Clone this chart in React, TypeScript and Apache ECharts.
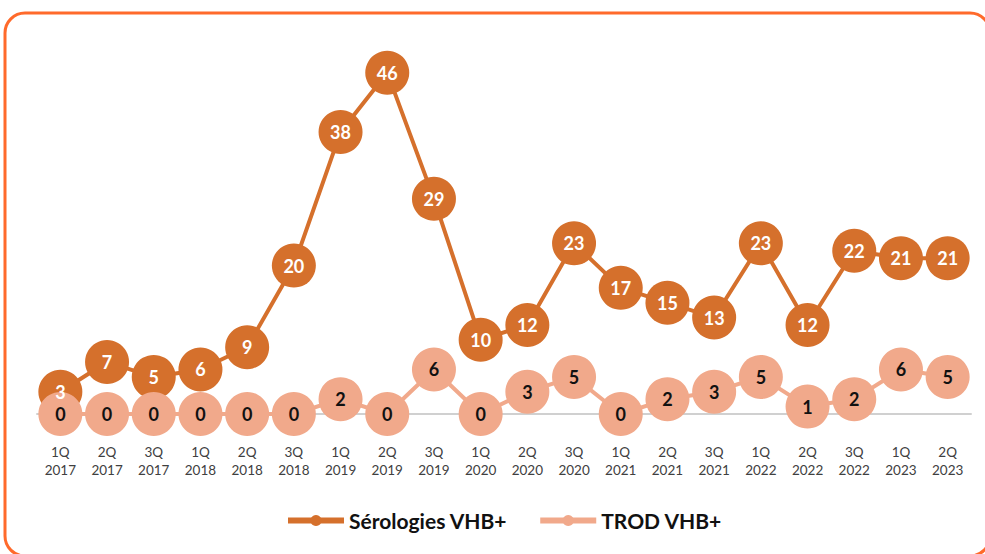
import React, { useEffect, useRef } from "react";
import * as echarts from "echarts";

const quarters = ["1Q", "2Q", "3Q", "1Q", "2Q", "3Q", "1Q", "2Q", "3Q", "1Q", "2Q", "3Q", "1Q", "2Q", "3Q", "1Q", "2Q", "3Q", "1Q", "2Q"];
const years = ["2017", "2017", "2017", "2018", "2018", "2018", "2019", "2019", "2019", "2020", "2020", "2020", "2021", "2021", "2021", "2022", "2022", "2022", "2023", "2023"];
const serologies = [3, 7, 5, 6, 9, 20, 38, 46, 29, 10, 12, 23, 17, 15, 13, 23, 12, 22, 21, 21];
const trod = [0, 0, 0, 0, 0, 0, 2, 0, 6, 0, 3, 5, 0, 2, 3, 5, 1, 2, 6, 5];

const categories = quarters.map((q, i) => `${q}\n${years[i]}`);

const DARK = "#D5702C";
const LIGHT = "#F1A98B";
const FONT = "Lato, 'Open Sans', sans-serif";

const labelStyle = (color: string) => ({
  show: true,
  position: "inside",
  color,
  fontFamily: FONT,
  fontSize: 18,
  fontWeight: "bold",
});

export default function App() {
  const ref = useRef<HTMLDivElement>(null);
  useEffect(() => {
    if (!ref.current) return;
    const chart = echarts.init(ref.current, null, { renderer: "svg" });
    chart.setOption({
      animation: false,
      graphic: [
        {
          type: "rect",
          shape: { x: 5, y: 13, width: 985, height: 543, r: 20 },
          style: { fill: "none", stroke: "#FF6A2B", lineWidth: 3 },
          z: -10,
        },
      ],
      grid: { left: 37, right: 14, top: 43, bottom: 140, containLabel: false },
      legend: {
        bottom: 18,
        left: 280,
        itemWidth: 56,
        itemHeight: 14,
        itemGap: 30,
        lineStyle: { width: 6 },
        textStyle: { fontFamily: FONT, fontSize: 21, fontWeight: "bold", color: "#111" },
        data: ["Sérologies VHB+", "TROD VHB+"],
      },
      xAxis: {
        type: "category",
        data: categories,
        boundaryGap: true,
        axisLine: { lineStyle: { color: "#D0D0D0", width: 2 } },
        axisTick: { show: false },
        axisLabel: {
          color: "#404040",
          fontFamily: FONT,
          fontSize: 13.5,
          lineHeight: 18,
          margin: 29,
          interval: 0,
        },
      },
      yAxis: {
        type: "value",
        min: 0,
        max: 50,
        show: false,
        splitLine: { show: false },
      },
      series: [
        {
          name: "Sérologies VHB+",
          type: "line",
          data: serologies,
          symbol: "circle",
          symbolSize: 44,
          lineStyle: { color: DARK, width: 4 },
          itemStyle: { color: DARK },
          label: { show: false },
          z: 2,
        },
        {
          name: "TROD VHB+",
          type: "line",
          data: trod,
          symbol: "circle",
          symbolSize: 44,
          lineStyle: { color: LIGHT, width: 4 },
          itemStyle: { color: LIGHT },
          label: labelStyle("#111"),
          z: 3,
        },
        {
          name: "Sérologies labels",
          type: "line",
          data: serologies,
          symbol: "circle",
          symbolSize: 44,
          lineStyle: { opacity: 0 },
          itemStyle: { color: "rgba(0,0,0,0)" },
          label: labelStyle("#fff"),
          silent: true,
          z: 4,
        },
      ],
    });
    return () => chart.dispose();
  }, []);
  return (
    <div
      ref={ref}
      style={{ position: "absolute", left: 0, top: 0, width: 985, height: 554, background: "#fff" }}
    />
  );
}
